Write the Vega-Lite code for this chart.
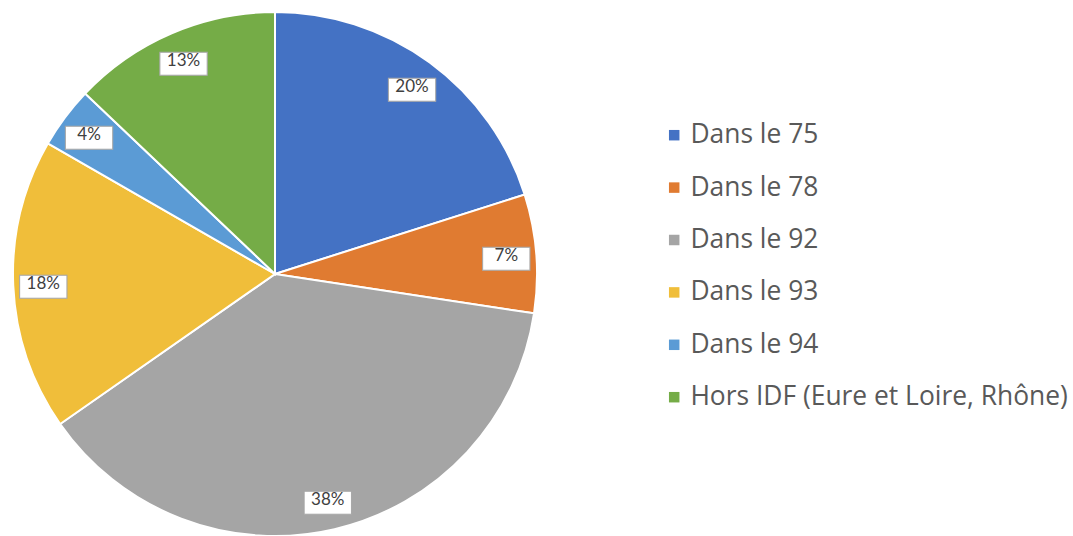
{
  "$schema": "https://vega.github.io/schema/vega-lite/v6.json",
  "width": 550,
  "height": 548,
  "padding": {"left": 0, "top": 0, "right": 0, "bottom": 0},
  "background": "white",
  "data": {
    "values": [
      {"cat": "Dans le 75", "value": 20.1, "label": "20%", "order": 1},
      {"cat": "Dans le 78", "value": 7.3, "label": "7%", "order": 2},
      {"cat": "Dans le 92", "value": 37.9, "label": "38%", "order": 3},
      {"cat": "Dans le 93", "value": 18.0, "label": "18%", "order": 4},
      {"cat": "Dans le 94", "value": 3.8, "label": "4%", "order": 5},
      {"cat": "Hors IDF (Eure et Loire, Rhône)", "value": 12.9, "label": "13%", "order": 6}
    ]
  },
  "encoding": {
    "theta": {"field": "value", "type": "quantitative", "stack": true},
    "order": {"field": "order", "type": "quantitative"}
  },
  "layer": [
    {
      "mark": {"type": "arc", "outerRadius": 262, "stroke": "white", "strokeWidth": 2},
      "encoding": {
        "color": {
          "field": "cat",
          "type": "nominal",
          "scale": {
            "domain": ["Dans le 75", "Dans le 78", "Dans le 92", "Dans le 93", "Dans le 94", "Hors IDF (Eure et Loire, Rhône)"],
            "range": ["#4472C4", "#E07B31", "#A5A5A5", "#F0BE3A", "#5B9BD5", "#75AC47"]
          },
          "legend": {
            "title": null,
            "orient": "none",
            "legendX": 661,
            "legendY": 122,
            "padding": 0,
            "symbolType": "square",
            "symbolSize": 110,
            "symbolStrokeWidth": 0,
            "labelFont": "Open Sans",
            "labelFontSize": 26.4,
            "labelColor": "#595959",
            "labelOffset": 3,
            "rowPadding": 25.4,
            "labelLimit": 500
          }
        }
      }
    },
    {
      "mark": {"type": "text", "radius": 232, "text": "▬", "font": "DejaVu Sans", "fontSize": 62, "fill": "white", "stroke": "#A6A6A6", "strokeWidth": 1, "baseline": "middle", "align": "center"},
      "encoding": {}
    },
    {
      "mark": {"type": "text", "radius": 232, "font": "Lato", "fontSize": 17, "color": "#404040", "baseline": "middle", "align": "center"},
      "encoding": {"text": {"field": "label", "type": "nominal"}}
    }
  ]
}
